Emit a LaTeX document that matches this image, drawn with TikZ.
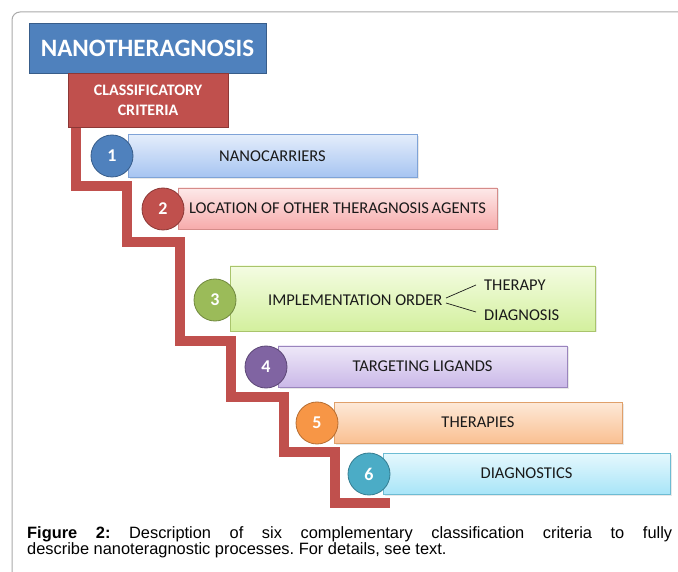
\documentclass[tikz,border=0pt]{standalone}
\usepackage{fontspec}
\newfontfamily\calfont{Carlito}
\newfontfamily\arialfont{Liberation Sans}
\usetikzlibrary{shadows}
\definecolor{tblue}{HTML}{4F81BD}
\definecolor{tbluedk}{HTML}{385D8A}
\definecolor{tred}{HTML}{C0504D}
\definecolor{treddk}{HTML}{8C3836}
\definecolor{tgreen}{HTML}{9BBB59}
\definecolor{tgreendk}{HTML}{71893F}
\definecolor{tpurple}{HTML}{8064A2}
\definecolor{tpurpledk}{HTML}{5C4776}
\definecolor{torange}{HTML}{F79646}
\definecolor{torangedk}{HTML}{B66D31}
\definecolor{tcyan}{HTML}{4BACC6}
\definecolor{tcyandk}{HTML}{357D91}
\definecolor{txt}{HTML}{1A1A1A}
\definecolor{framegray}{HTML}{AAAAAA}
% box gradients
\definecolor{b1t}{HTML}{E4EDFB}\definecolor{b1b}{HTML}{A6C4F1}\definecolor{b1d}{HTML}{7FA3D7}
\definecolor{b2t}{HTML}{FDE9E9}\definecolor{b2b}{HTML}{F7ABAB}\definecolor{b2d}{HTML}{D58C8A}
\definecolor{b3t}{HTML}{F4FCE2}\definecolor{b3b}{HTML}{D3F09E}\definecolor{b3d}{HTML}{A9C46C}
\definecolor{b4t}{HTML}{EEE8F8}\definecolor{b4b}{HTML}{CAB8E8}\definecolor{b4d}{HTML}{9A85BD}
\definecolor{b5t}{HTML}{FDE9D8}\definecolor{b5b}{HTML}{FAC092}\definecolor{b5d}{HTML}{E0A06A}
\definecolor{b6t}{HTML}{E6F8FD}\definecolor{b6b}{HTML}{A8E5F8}\definecolor{b6d}{HTML}{6DBCD3}
\tikzset{
  labfont/.style={font=\calfont\fontsize{16.5}{19}\selectfont, text=txt},
  critbox/.style={rectangle, draw, line width=0.8pt, inner sep=0pt, labfont,
    drop shadow={opacity=0.18, shadow xshift=1.5pt, shadow yshift=-1.5pt}},
  numc/.style={circle, draw, line width=0.8pt, minimum size=42pt, inner sep=0pt,
    font=\calfont\bfseries\fontsize{18}{20}\selectfont, text=white},
  headbox/.style={rectangle, draw, line width=0.8pt, inner sep=0pt, text=white, align=center},
  stair/.style={draw=tred, line width=10pt, line join=miter, line cap=butt},
  branch/.style={draw=txt, line width=0.7pt}
}
\begin{document}
\begin{tikzpicture}[x=1pt,y=-1pt]
\useasboundingbox (0,0) rectangle (678,572);
\fill[white] (0,0) rectangle (678,572);
% frame
\draw[framegray, line width=1pt, rounded corners=8pt] (12,580) -- (12,12) -- (690,12);
% staircase
\draw[stair] (76,120) -- (76,186) -- (127,186) -- (127,242) -- (180,242) -- (180,341)
  -- (231,341) -- (231,397) -- (284,397) -- (284,452) -- (335,452) -- (335,503) -- (390,503);
% header boxes
\node[headbox, fill=tblue, draw=tbluedk, minimum width=237pt, minimum height=50pt,
  font=\calfont\bfseries\fontsize{25}{28}\selectfont] (title) at (147.5,48) {NANOTHERAGNOSIS};
\node[headbox, fill=tred, draw=treddk, minimum width=160pt, minimum height=54pt,
  font=\calfont\bfseries\fontsize{16}{20}\selectfont] (crit) at (148,100) {CLASSIFICATORY\\CRITERIA};
% criteria boxes
\node[critbox, draw=b1d, top color=b1t, bottom color=b1b,
  minimum width=289pt, minimum height=43pt] (b1) at (272.5,156) {NANOCARRIERS};
\node[critbox, draw=b2d, top color=b2t, bottom color=b2b,
  minimum width=319pt, minimum height=41pt] (b2) at (337.5,208.5) {LOCATION OF OTHER THERAGNOSIS\,AGENTS};
\node[critbox, draw=b3d, top color=b3t, bottom color=b3b,
  minimum width=365pt, minimum height=65pt] (b3) at (412.5,298.5) {};
\node[critbox, draw=b4d, top color=b4t, bottom color=b4b,
  minimum width=289pt, minimum height=41pt] (b4) at (422.5,366.5) {TARGETING LIGANDS};
\node[critbox, draw=b5d, top color=b5t, bottom color=b5b,
  minimum width=288pt, minimum height=41pt] (b5) at (478,422.5) {THERAPIES};
\node[critbox, draw=b6d, top color=b6t, bottom color=b6b,
  minimum width=287pt, minimum height=41pt] (b6) at (526.5,473.5) {DIAGNOSTICS};
% box 3 contents
\node[anchor=west, inner sep=0pt, labfont] (impl) at (268,300) {IMPLEMENTATION ORDER};
\node[anchor=west, inner sep=0pt, labfont] (ther) at (484,285) {THERAPY};
\node[anchor=west, inner sep=0pt, labfont] (diag) at (484,315) {DIAGNOSIS};
\coordinate (fork1) at (446,298);
\coordinate (fork2) at (446,303);
\draw[branch] (fork1) -- ([xshift=-8pt]ther.west);
\draw[branch] (fork2) -- ([xshift=-8pt,yshift=3pt]diag.west);
% number circles
\node[numc, fill=tblue, draw=tbluedk] (c1) at (112,156) {1};
\node[numc, fill=tred, draw=treddk] (c2) at (163,209) {2};
\node[numc, fill=tgreen, draw=tgreendk] (c3) at (215,300) {3};
\node[numc, fill=tpurple, draw=tpurpledk] (c4) at (266,367) {4};
\node[numc, fill=torange, draw=torangedk] (c5) at (317,423) {5};
\node[numc, fill=tcyan, draw=tcyandk] (c6) at (369,474) {6};
% caption
\node[anchor=north west, inner sep=0pt, text width=645pt, align=justify,
  font=\arialfont\fontsize{16.4}{16.5}\selectfont\frenchspacing, text=black] (cap) at (27,526)
  {\textbf{Figure 2:} Description of six complementary classification criteria to fully\linebreak describe nanoteragnostic processes. For details, see text.};
\end{tikzpicture}
\end{document}
